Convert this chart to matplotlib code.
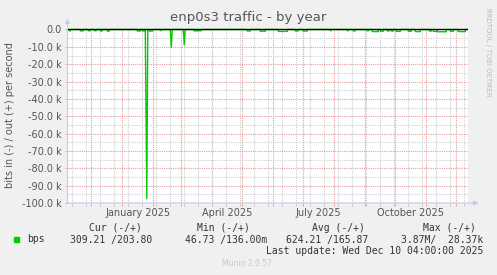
import matplotlib
matplotlib.use("Agg")
import matplotlib.pyplot as plt
import matplotlib.dates as mdates
import matplotlib.ticker as mticker
import matplotlib.transforms as mtransforms
from matplotlib.patches import Rectangle
import datetime
import pandas as pd

# traffic "in" (drawn negative), bits per second
spike_dates = ["2025-01-24", "2025-01-25 12:00", "2025-01-26 12:00",
               "2025-02-18", "2025-02-19", "2025-02-20",
               "2025-03-03", "2025-03-04", "2025-03-05"]
spike_bps = [0, -97400, 0,
             0, -10200, 0,
             0, -8900, 0]

blip_start = ["2024-11-07", "2024-11-20", "2024-11-28", "2024-12-04", "2024-12-10",
              "2024-12-17", "2025-01-16", "2025-01-21", "2025-01-28", "2025-02-08",
              "2025-03-14", "2025-03-18", "2025-05-06", "2025-05-19", "2025-06-06",
              "2025-06-23", "2025-07-01", "2025-07-28", "2025-08-14", "2025-08-20",
              "2025-09-03", "2025-09-08", "2025-09-16", "2025-09-23", "2025-09-27",
              "2025-10-02", "2025-10-14", "2025-10-21", "2025-11-04", "2025-11-08",
              "2025-11-12", "2025-11-25", "2025-12-03"]
blip_end = ["2024-11-10", "2024-11-23", "2024-11-30", "2024-12-06", "2024-12-12",
            "2024-12-19", "2025-01-19", "2025-01-23", "2025-01-31", "2025-02-09",
            "2025-03-17", "2025-03-21", "2025-05-09", "2025-05-24", "2025-06-15",
            "2025-06-26", "2025-07-05", "2025-07-29", "2025-08-15", "2025-08-22",
            "2025-09-04", "2025-09-14", "2025-09-19", "2025-09-25", "2025-09-29",
            "2025-10-06", "2025-10-17", "2025-10-26", "2025-11-06", "2025-11-12",
            "2025-11-21", "2025-11-28", "2025-12-10"]
blip_bps = [-900, -800, -700, -700, -800,
            -900, -900, -800, -900, -600,
            -800, -700, -900, -1000, -1100,
            -800, -900, -600, -700, -800,
            -700, -1200, -1000, -800, -900,
            -1100, -1000, -1200, -900, -1100,
            -1300, -1000, -1200]

x_start = "2024-11-07 05:00"
x_end = "2025-12-12 05:00"

x_labels = ["January 2025", "April 2025", "July 2025", "October 2025"]
x_label_dates = ["2025-01-16 12:00", "2025-04-16", "2025-07-16", "2025-10-16"]

# legend texts
legend_name = "bps"
legend_cols = ["Cur (-/+)", "Min (-/+)", "Avg (-/+)", "Max (-/+)"]
legend_vals = ["309.21 /203.80", "46.73 /136.00m", "624.21 /165.87", "3.87M/  28.37k"]
last_update = "Last update: Wed Dec 10 04:00:00 2025"

W, H = 497, 275
BG = "#F0F0F0"
GREEN = "#00CC00"
TXT = "#555555"
AXC = "#C8C8F0"


def fx(px):
    return px / W


def fy(py):
    return 1 - py / H


# build the line: blips as flat segments, spikes as given
pts = []
for s, e, v in zip(blip_start, blip_end, blip_bps):
    s, e = pd.Timestamp(s), pd.Timestamp(e)
    pts += [(s, 0), (s, v), (e, v), (e, 0)]
for d, v in zip(spike_dates, spike_bps):
    pts.append((pd.Timestamp(d), v))
pts.append((pd.Timestamp(x_start), 0))
pts.append((pd.Timestamp(x_end), 0))
pts.sort(key=lambda p: p[0])
xs = [p[0] for p in pts]
ys = [p[1] for p in pts]

fig = plt.figure(figsize=(W / 100, H / 100), dpi=100, facecolor=BG)
ax = fig.add_axes([fx(67.5), fy(203), 400 / W, 175 / H])
ax.set_facecolor("white")

ax.plot(xs, ys, color=GREEN, lw=1.0, zorder=3)
ax.axhline(0, color="black", lw=1.0, zorder=4)

ax.set_xlim(pd.Timestamp(x_start), pd.Timestamp(x_end))
ax.set_ylim(-100000, 860)

# grid: red at month starts / 10k, grey every 2nd Sunday / 5k
ax.yaxis.set_major_locator(mticker.MultipleLocator(10000))
ax.yaxis.set_minor_locator(mticker.MultipleLocator(5000))
ax.xaxis.set_major_locator(mdates.MonthLocator())
ax.xaxis.set_minor_locator(mdates.RRuleLocator(
    mdates.rrulewrapper(mdates.WEEKLY, interval=2, dtstart=datetime.datetime(2024, 11, 3))))
ax.grid(which="minor", color="#D0D0D0", linestyle=(0, (1, 1)), lw=0.8, zorder=1)
ax.grid(which="major", color="#E89A9A", linestyle=(0, (1, 1)), lw=0.8, zorder=2)


def yfmt(v, pos):
    if abs(v) < 1:
        return "0.0"
    return "%.1f k" % (v / 1000)


ax.yaxis.set_major_formatter(mticker.FuncFormatter(yfmt))
ax.xaxis.set_major_formatter(mticker.NullFormatter())
ax.xaxis.set_minor_formatter(mticker.NullFormatter())
ax.tick_params(which="both", labelsize=7, colors=TXT, length=2, width=0.6, pad=2)
ax.tick_params(axis="x", which="major", color="#E89A9A")
ax.tick_params(axis="x", which="minor", color="#C8C8C8")
ax.tick_params(axis="y", which="major", color="#E89A9A")
ax.tick_params(axis="y", which="minor", left=False)

trans = mtransforms.blended_transform_factory(ax.transData, fig.transFigure)
for lab, d in zip(x_labels, x_label_dates):
    ax.text(pd.Timestamp(d), fy(213), lab, transform=trans, ha="center", va="center",
            fontsize=7, color=TXT)

for sp in ax.spines.values():
    sp.set_visible(False)

# axes with arrows
ax.annotate("", xy=(0, 1.055), xycoords="axes fraction", xytext=(0, 0),
            arrowprops=dict(arrowstyle="-|>", color=AXC, lw=0.8,
                            mutation_scale=7, shrinkA=0, shrinkB=0))
ax.annotate("", xy=(1.028, 0), xycoords="axes fraction", xytext=(0, 0),
            arrowprops=dict(arrowstyle="-|>", color=AXC, lw=0.8,
                            mutation_scale=7, shrinkA=0, shrinkB=0))

fig.text(fx(248.5), fy(18), "enp0s3 traffic - by year", ha="center", va="center",
         fontsize=9.5, color=TXT)
fig.text(fx(10), fy(115), "bits in (-) / out (+) per second", rotation=90,
         ha="center", va="center", fontsize=7, color=TXT)
fig.text(fx(488), fy(52), "RRDTOOL / TOBI OETIKER", rotation=270, ha="center",
         va="center", fontsize=5, color="#BBBBBB")

# legend
mono = "DejaVu Sans Mono"
fig.patches.append(Rectangle((fx(14), fy(242)), 5 / W, 5 / H, transform=fig.transFigure,
                             color=GREEN))
fig.text(fx(27), fy(239.5), legend_name, ha="left", va="center", fontsize=7,
         family=mono, color="#333333")
head_right = [142, 250, 365, 476]
val_right = [152, 267, 368, 483]
for c, v, hr, vr in zip(legend_cols, legend_vals, head_right, val_right):
    fig.text(fx(hr), fy(228), c, ha="right", va="center", fontsize=7,
             family=mono, color="#333333")
    fig.text(fx(vr), fy(239.5), v, ha="right", va="center", fontsize=7,
             family=mono, color="#333333")
fig.text(fx(483), fy(251), last_update, ha="right", va="center", fontsize=7,
         family=mono, color="#333333")
fig.text(fx(247.5), fy(264), "Munin 2.0.57", ha="center", va="center",
         fontsize=5.5, color="#C8C8C8")

fig.savefig("out.png", dpi=100, facecolor=BG)
